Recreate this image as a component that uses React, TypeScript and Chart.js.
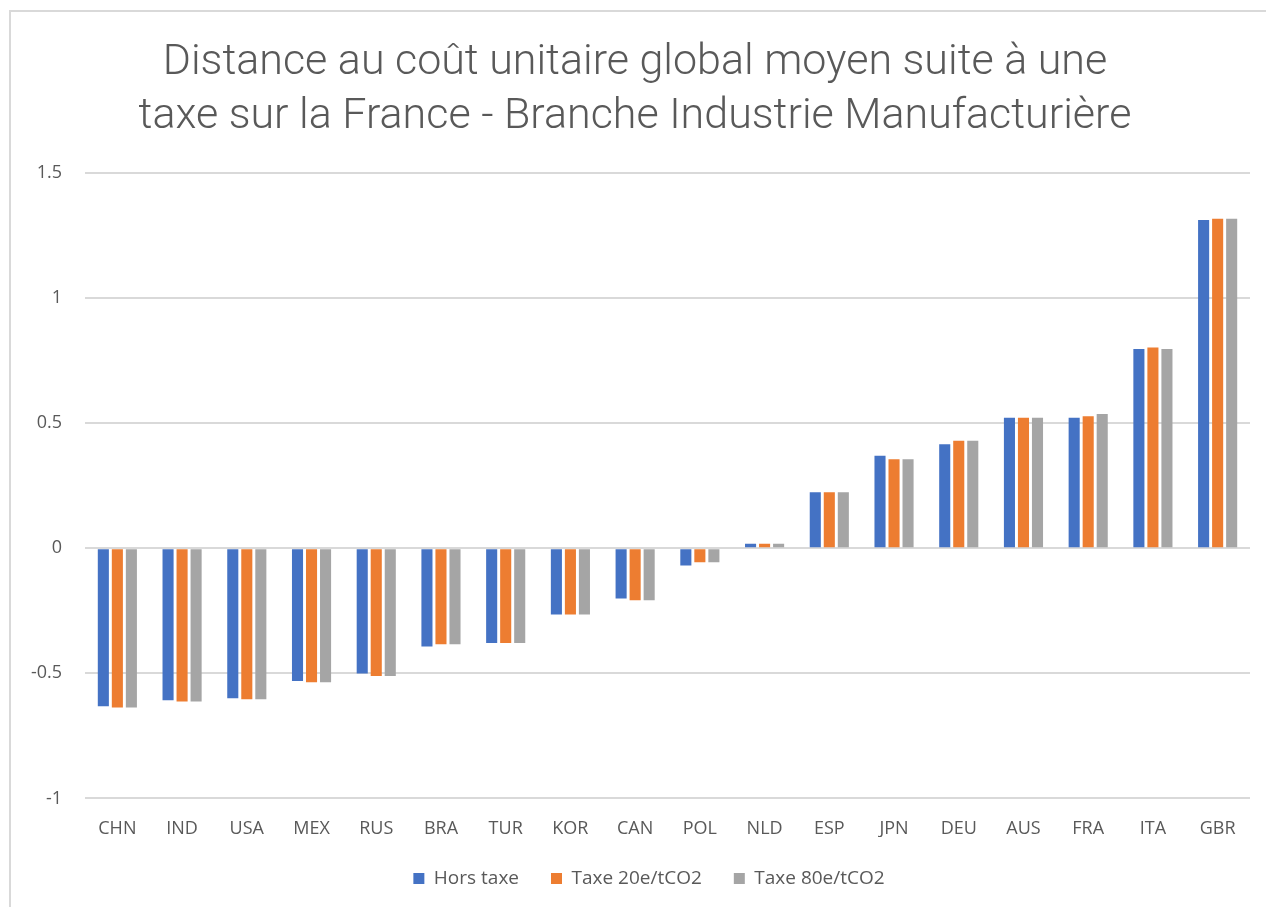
import React, { useEffect, useRef } from "react";
import { Chart, registerables } from "chart.js";

Chart.register(...registerables);

const categories = ["CHN", "IND", "USA", "MEX", "RUS", "BRA", "TUR", "KOR", "CAN", "POL", "NLD", "ESP", "JPN", "DEU", "AUS", "FRA", "ITA", "GBR"];
const horsTaxe = [-0.632, -0.608, -0.6, -0.531, -0.501, -0.393, -0.379, -0.265, -0.201, -0.069, 0.018, 0.224, 0.37, 0.416, 0.522, 0.522, 0.796, 1.312];
const taxe20 = [-0.637, -0.613, -0.604, -0.536, -0.511, -0.384, -0.379, -0.265, -0.208, -0.056, 0.018, 0.224, 0.356, 0.43, 0.522, 0.528, 0.802, 1.317];
const taxe80 = [-0.637, -0.613, -0.604, -0.536, -0.511, -0.384, -0.379, -0.265, -0.208, -0.056, 0.018, 0.224, 0.356, 0.43, 0.522, 0.537, 0.796, 1.317];
const seriesNames = ["Hors taxe", "Taxe 20e/tCO2", "Taxe 80e/tCO2"];
const titleLines = [
  "Distance au coût unitaire global moyen suite à une",
  "taxe sur la France - Branche Industrie Manufacturière",
];
const yMin = -1;
const yMax = 1.5;
const yStep = 0.5;

const colors = ["#4472C4", "#ED7D31", "#A5A5A5"];
const textColor = "#595959";
const fontFamily = "'Open Sans', sans-serif";

const legendShift = {
  id: "legendShift",
  afterLayout(chart: any) {
    if (chart.legend) {
      chart.legend.left += 14;
      chart.legend.right += 14;
    }
  },
};

export default function App() {
  const ref = useRef<HTMLCanvasElement | null>(null);
  useEffect(() => {
    if (!ref.current) return;
    const chart = new Chart(ref.current, {
      type: "bar",
      data: {
        labels: categories,
        datasets: [horsTaxe, taxe20, taxe80].map((d, i) => ({
          label: seriesNames[i],
          data: d,
          backgroundColor: colors[i],
          barPercentage: 0.79,
          categoryPercentage: 0.65,
        })),
      },
      plugins: [legendShift],
      options: {
        animation: false,
        responsive: false,
        maintainAspectRatio: false,
        layout: { padding: { left: 20, right: 16, top: 0, bottom: 9 } },
        plugins: {
          title: {
            display: true,
            text: titleLines,
            color: textColor,
            font: { family: "Roboto, sans-serif", size: 43, weight: "300", lineHeight: 1.256 },
            padding: { top: 36, bottom: 29 },
          },
          legend: {
            position: "bottom",
            labels: {
              boxWidth: 11,
              boxHeight: 11,
              color: textColor,
              font: { family: fontFamily, size: 19 },
              padding: 32,
            },
          },
          tooltip: { enabled: false },
        },
        scales: {
          x: {
            grid: { display: false },
            border: { display: false },
            ticks: { color: textColor, font: { family: fontFamily, size: 18 }, padding: 12 },
            afterFit: (s: any) => {
              s.height = s.height - 15;
            },
          },
          y: {
            min: yMin,
            max: yMax,
            ticks: {
              stepSize: yStep,
              color: textColor,
              font: { family: fontFamily, size: 18 },
              padding: 23,
              callback: (v: any) => String(Number(v)),
            },
            grid: { color: "#D9D9D9", lineWidth: 2, drawTicks: false },
            border: { display: false },
            afterFit: (s: any) => {
              s.width = 65;
            },
          },
        },
      },
    });
    return () => chart.destroy();
  }, []);
  return (
    <div style={{ position: "absolute", left: 0, top: 0, width: 1266, height: 907, overflow: "hidden", background: "#fff" }}>
      <div style={{ position: "absolute", left: 9, top: 10, width: 1400, height: 1000, borderLeft: "2px solid #D9D9D9", borderTop: "2px solid #D9D9D9" }} />
      <canvas ref={ref} width={1266} height={907} style={{ position: "absolute", left: 0, top: 0 }} />
    </div>
  );
}
